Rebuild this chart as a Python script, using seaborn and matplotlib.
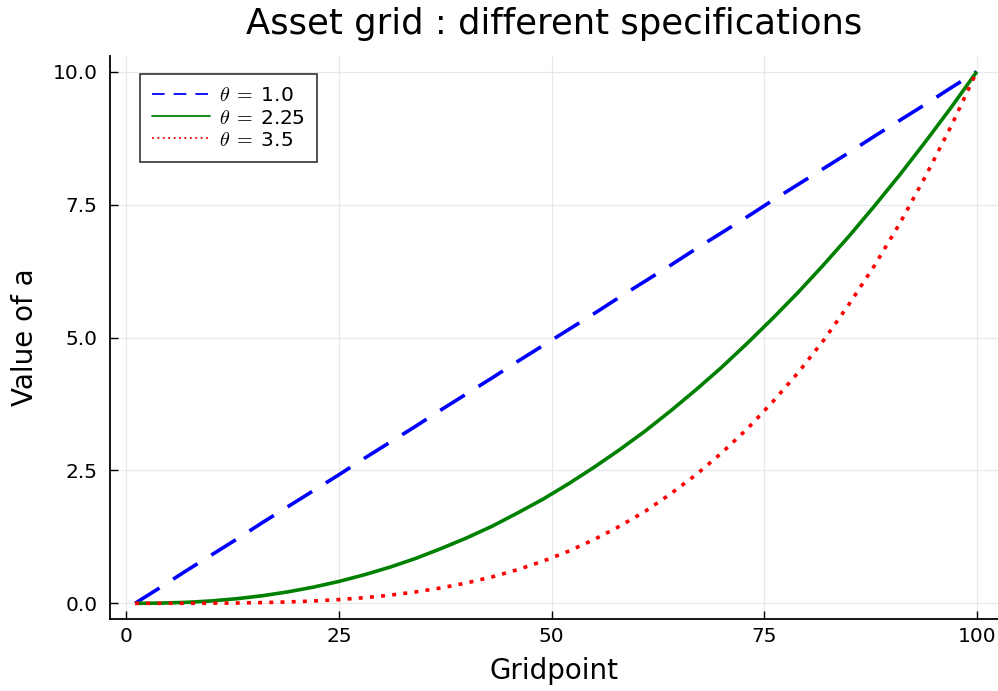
import matplotlib
matplotlib.use("Agg")
import matplotlib.pyplot as plt
import seaborn as sns
from matplotlib.lines import Line2D

sns.set_theme(style="white")
plt.rcParams['font.family'] = ['DejaVu Sans']
plt.rcParams['mathtext.fontset'] = 'cm'
plt.rcParams['text.color'] = 'black'
plt.rcParams['axes.labelcolor'] = 'black'
plt.rcParams['xtick.color'] = 'black'
plt.rcParams['ytick.color'] = 'black'

# values at every 3rd gridpoint
gridpoints = [1, 4, 7, 10, 13, 16, 19, 22, 25, 28, 31, 34, 37, 40, 43, 46, 49,
              52, 55, 58, 61, 64, 67, 70, 73, 76, 79, 82, 85, 88, 91, 94, 97, 100]
a_theta_1 = [0.0, 0.30, 0.61, 0.91, 1.21, 1.52, 1.82, 2.12, 2.42, 2.73, 3.03, 3.33,
             3.64, 3.94, 4.24, 4.55, 4.85, 5.15, 5.45, 5.76, 6.06, 6.36, 6.67, 6.97,
             7.27, 7.58, 7.88, 8.18, 8.48, 8.79, 9.09, 9.39, 9.70, 10.0]
a_theta_225 = [0.0, 0.004, 0.018, 0.045, 0.087, 0.143, 0.216, 0.305, 0.412, 0.538,
               0.681, 0.844, 1.03, 1.23, 1.45, 1.70, 1.96, 2.25, 2.56, 2.89, 3.24,
               3.62, 4.02, 4.44, 4.89, 5.36, 5.85, 6.37, 6.91, 7.48, 8.07, 8.69,
               9.33, 10.0]
a_theta_35 = [0.0, 0.0, 0.0005, 0.002, 0.006, 0.014, 0.026, 0.044, 0.070, 0.106,
              0.153, 0.214, 0.290, 0.384, 0.497, 0.633, 0.794, 0.981, 1.20, 1.45,
              1.73, 2.06, 2.42, 2.83, 3.28, 3.79, 4.34, 4.95, 5.63, 6.36, 7.16,
              8.04, 8.98, 10.0]
labels = [r'$\theta\;=\;$1.0', r'$\theta\;=\;$2.25', r'$\theta\;=\;$3.5']
colors = ['blue', 'green', 'red']

fig = plt.figure(figsize=(9.98, 6.91), dpi=100)
ax = fig.add_axes([110 / 998, 1 - 619 / 691, 888 / 998, 563 / 691])

lw = 2.6
sns.lineplot(x=gridpoints, y=a_theta_1, color=colors[0], linewidth=lw,
             linestyle=(0, (8, 4.5)), ax=ax)
sns.lineplot(x=gridpoints, y=a_theta_225, color=colors[1], linewidth=lw, ax=ax)
sns.lineplot(x=gridpoints, y=a_theta_35, color=colors[2], linewidth=lw,
             linestyle=(0, (1.1, 2.0)), ax=ax)
for ln in ax.get_lines():
    ln.set_dash_capstyle('butt')
    ln.set_solid_capstyle('butt')

ax.set_xlim(-1.94, 102.5)
ax.set_ylim(-0.295, 10.295)
ax.set_xticks([0, 25, 50, 75, 100])
ax.set_yticks([0, 2.5, 5, 7.5, 10])
ax.set_yticklabels(['0.0', '2.5', '5.0', '7.5', '10.0'])
ax.grid(True, color='#e8e8e8', linewidth=0.9)
for s in ['top', 'right']:
    ax.spines[s].set_visible(False)
for s in ['left', 'bottom']:
    ax.spines[s].set_color('black')
    ax.spines[s].set_linewidth(1.3)
ax.tick_params(direction='in', length=5.5, width=1, color='black', labelsize=14.5,
               left=True, bottom=True)
ax.tick_params(axis='x', pad=6)
ax.tick_params(axis='y', pad=9)

ax.set_title('Asset grid : different specifications', fontsize=25.5, pad=16, color='black')
ax.set_xlabel('Gridpoint', fontsize=20, labelpad=8)
ax.set_ylabel('Value of a', fontsize=20, labelpad=10)

handles = [Line2D([], [], color='blue', lw=1.3, dashes=(7, 5)),
           Line2D([], [], color='green', lw=1.3),
           Line2D([], [], color='red', lw=1.3, dashes=(1, 2))]
leg = ax.legend(handles, labels, loc='upper left', bbox_to_anchor=(30 / 888, 1 - 18 / 563),
                borderaxespad=0, fontsize=14.5, frameon=True, fancybox=False,
                handlelength=2.85, borderpad=0.62, labelspacing=0.15, handletextpad=0.45)
leg.get_frame().set_edgecolor('black')
leg.get_frame().set_linewidth(1.2)

fig.savefig('out.png', dpi=100)
